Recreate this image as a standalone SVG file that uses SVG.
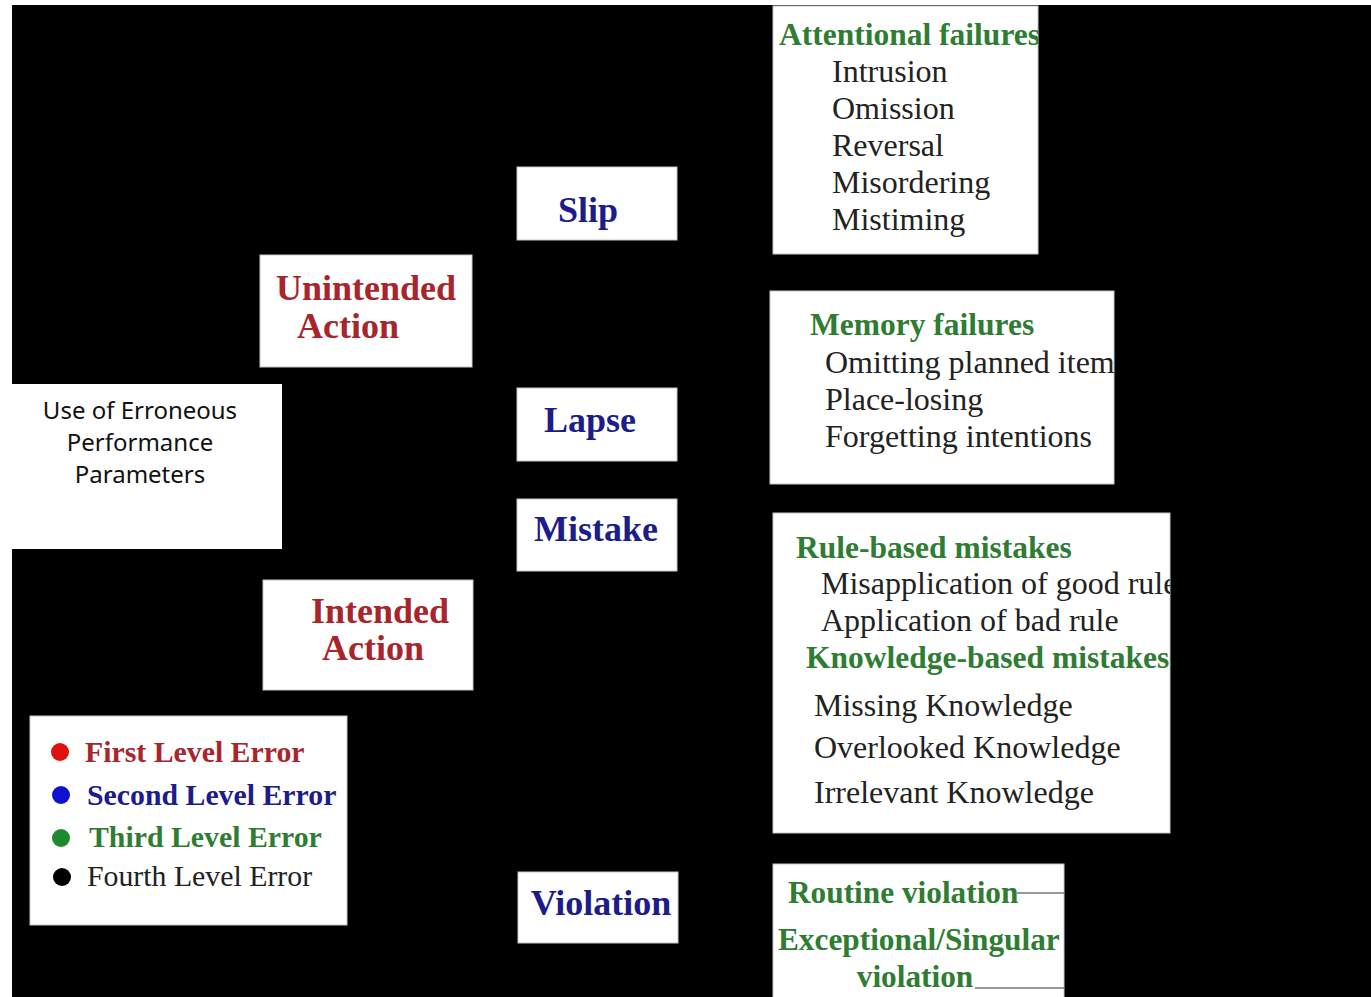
<svg xmlns="http://www.w3.org/2000/svg" width="1371" height="997" viewBox="0 0 1371 997">
<style>
.box{fill:#fff;stroke:#c8c8c8;stroke-width:1}
.t{font-family:"Liberation Serif","Times New Roman",serif}
.b{font-weight:bold}
.red{fill:#a8262b}
.blue{fill:#1c1c8a}
.green{fill:#2e7d32}
.blk{fill:#222}
.s1{font-size:36px}
.s2{font-size:32px}
.sh{font-size:31.5px}
.s3{font-size:29.8px}
.sv{font-size:31.3px}
.sans{font-family:"Noto Sans","Open Sans",sans-serif;font-size:24px;fill:#111}
.conn{stroke:#777;stroke-width:1.5;fill:none}
</style>
<defs>
<clipPath id="cA"><rect x="773" y="6" width="265" height="248"/></clipPath>
<clipPath id="cM"><rect x="770" y="291" width="344" height="193"/></clipPath>
<clipPath id="cR"><rect x="773" y="513" width="397" height="320"/></clipPath>
<clipPath id="cV"><rect x="773" y="864" width="291" height="133"/></clipPath>
</defs>
<rect x="0" y="0" width="1371" height="997" fill="#fff"/>
<rect x="12" y="5" width="1359" height="992" fill="#000"/>

<g id="attentional">
<rect class="box" x="773" y="6" width="265" height="248"/>
<g clip-path="url(#cA)">
<text class="t b green sh" x="779" y="45">Attentional failures</text>
<text class="t blk s2" x="832" y="82">Intrusion</text>
<text class="t blk s2" x="832" y="119">Omission</text>
<text class="t blk s2" x="832" y="156">Reversal</text>
<text class="t blk s2" x="832" y="193">Misordering</text>
<text class="t blk s2" x="832" y="230">Mistiming</text>
</g>
</g>

<g id="slip">
<rect class="box" x="517" y="167" width="160" height="73"/>
<text class="t b blue s1" x="588" y="222" text-anchor="middle">Slip</text>
</g>

<g id="unintended">
<rect class="box" x="260" y="255" width="212" height="112"/>
<text class="t b red s1" x="276" y="300">Unintended</text>
<text class="t b red s1" x="297" y="338">Action</text>
</g>

<g id="memory">
<rect class="box" x="770" y="291" width="344" height="193"/>
<g clip-path="url(#cM)">
<text class="t b green sh" x="810" y="335">Memory failures</text>
<text class="t blk s2" x="825" y="373">Omitting planned item</text>
<text class="t blk s2" x="825" y="410">Place-losing</text>
<text class="t blk s2" x="825" y="447">Forgetting intentions</text>
</g>
</g>

<g id="erroneous">
<rect x="12" y="384" width="270" height="165" fill="#fff"/>
<text class="sans" x="140" y="419" text-anchor="middle">Use of Erroneous</text>
<text class="sans" x="140" y="451" text-anchor="middle">Performance</text>
<text class="sans" x="140" y="483" text-anchor="middle">Parameters</text>
</g>

<g id="lapse">
<rect class="box" x="517" y="388" width="160" height="73"/>
<text class="t b blue s1" x="590" y="432" text-anchor="middle">Lapse</text>
</g>

<g id="mistake">
<rect class="box" x="517" y="499" width="160" height="72"/>
<text class="t b blue s1" x="596" y="541" text-anchor="middle">Mistake</text>
</g>

<g id="rulebased">
<rect class="box" x="773" y="513" width="397" height="320"/>
<g clip-path="url(#cR)">
<text class="t b green sh" x="796" y="558">Rule-based mistakes</text>
<text class="t blk s2" x="821" y="594">Misapplication of good rule</text>
<text class="t blk s2" x="821" y="631">Application of bad rule</text>
<text class="t b green sh" x="806" y="668">Knowledge-based mistakes</text>
<text class="t blk s2" x="814" y="716">Missing Knowledge</text>
<text class="t blk s2" x="814" y="758">Overlooked Knowledge</text>
<text class="t blk s2" x="814" y="803">Irrelevant Knowledge</text>
</g>
</g>

<g id="intended">
<rect class="box" x="263" y="580" width="210" height="110"/>
<text class="t b red s1" x="311" y="623">Intended</text>
<text class="t b red s1" x="322" y="660">Action</text>
</g>

<g id="legend">
<rect class="box" x="30" y="716" width="317" height="209"/>
<circle cx="60" cy="752" r="9" fill="#e01010"/>
<circle cx="61" cy="795" r="9" fill="#1010d0"/>
<circle cx="61" cy="838" r="9" fill="#1e8a2e"/>
<circle cx="62" cy="877" r="9" fill="#000"/>
<text class="t b red s3" x="85" y="762">First Level Error</text>
<text class="t b blue s3" x="87" y="805">Second Level Error</text>
<text class="t b green s3" x="89" y="847">Third Level Error</text>
<text class="t blk s3" x="87" y="886">Fourth Level Error</text>
</g>

<g id="violation">
<rect class="box" x="518" y="872" width="160" height="71"/>
<text class="t b blue s1" x="601" y="915" text-anchor="middle">Violation</text>
</g>

<g id="violationtypes">
<rect class="box" x="773" y="864" width="291" height="140"/>
<g clip-path="url(#cV)">
<text class="t b green sv" x="788" y="903">Routine violation</text>
<text class="t b green sv" x="778" y="950">Exceptional/Singular</text>
<text class="t b green sv" x="915" y="987" text-anchor="middle">violation</text>
</g>
</g>

<g id="connectors">
<line class="conn" x1="1017" y1="893" x2="1064" y2="893"/>
<line class="conn" x1="975" y1="988" x2="1064" y2="988"/>
</g>
</svg>
